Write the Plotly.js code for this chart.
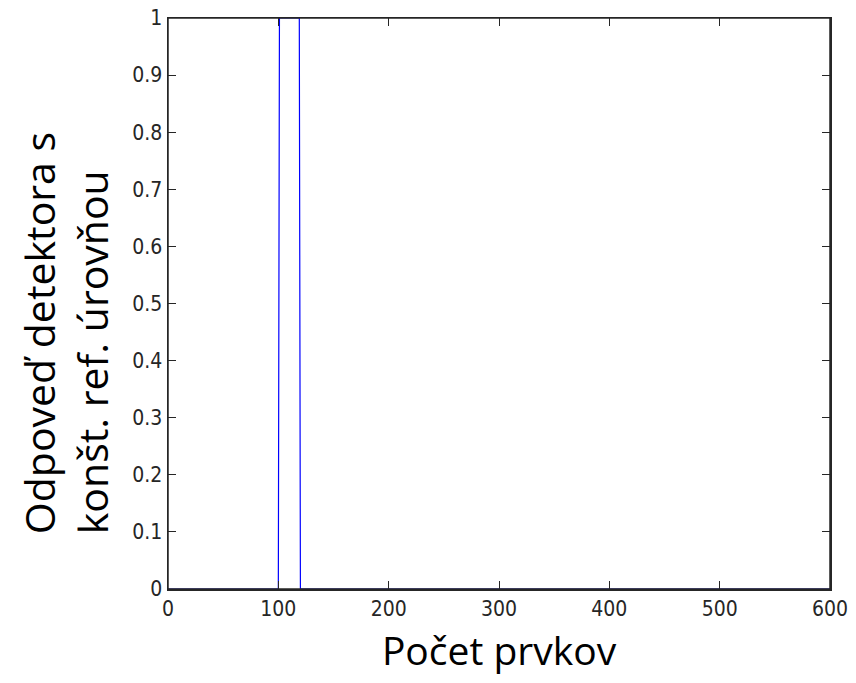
<!DOCTYPE html>
<html>
<head>
<meta charset="utf-8">
<script src="https://cdn.plot.ly/plotly-3.0.1.min.js"></script>
<style>html,body{margin:0;padding:0;background:#fff;}#chart{width:856px;height:683px;}</style>
</head>
<body>
<div id="chart"></div>
<script>
// Data (step response of the detector)
var pocetPrvkov = [0, 100, 101, 119, 120, 600];
var odpoved     = [0, 0,   1,   1,   0,   0];

var xTicks = [0, 100, 200, 300, 400, 500, 600];
var yTicks = [0, 0.1, 0.2, 0.3, 0.4, 0.5, 0.6, 0.7, 0.8, 0.9, 1];
var yTickText = ['0', '0.1', '0.2', '0.3', '0.4', '0.5', '0.6', '0.7', '0.8', '0.9', '1'];

var xTitle = 'Počet prvkov';
var yTitle = 'Odpoveď detektora s<br>konšt. ref. úrovňou';

var tickFont = {family: 'Liberation Sans Narrow, DejaVu Sans Condensed, Arial, sans-serif', size: 21, color: '#262626'};
var xTitleFont = {family: 'Open Sans, Noto Sans, sans-serif', size: 39, color: '#000'};
var yTitleFont = {family: 'Open Sans, Noto Sans, sans-serif', size: 41, color: '#000'};

var trace = {
  x: pocetPrvkov, y: odpoved, type: 'scatter', mode: 'lines',
  line: {color: '#0000ff', width: 1.2}, hoverinfo: 'skip', cliponaxis: true
};

var layout = {
  width: 856, height: 683,
  margin: {l: 168, r: 26, t: 18, b: 94},
  paper_bgcolor: '#ffffff', plot_bgcolor: '#ffffff',
  showlegend: false,
  xaxis: {
    range: [0, 600], tickvals: xTicks, ticktext: xTicks.map(String),
    ticks: 'inside', ticklen: 8, tickcolor: '#262626', tickwidth: 1,
    showline: true, linecolor: '#262626', linewidth: 1.5, mirror: 'ticks',
    showgrid: false, zeroline: false, tickfont: tickFont,
    title: {text: xTitle, font: xTitleFont, standoff: 18}
  },
  yaxis: {
    range: [0, 1], tickvals: yTicks, ticktext: yTickText,
    ticks: 'inside', ticklen: 8, tickcolor: '#262626', tickwidth: 1,
    showline: true, linecolor: '#262626', linewidth: 1.5, mirror: 'ticks',
    showgrid: false, zeroline: false, tickfont: tickFont
  },
  annotations: [{
    text: yTitle, xref: 'paper', yref: 'paper', x: -0.1556, y: 0.448,
    xanchor: 'center', yanchor: 'middle', textangle: -90, align: 'left',
    showarrow: false, font: yTitleFont
  }],
  shapes: [{
    type: 'rect', xref: 'paper', yref: 'paper', x0: 0, x1: 1, y0: 0, y1: 1,
    line: {color: '#262626', width: 1.5}, layer: 'above'
  }]
};

Plotly.newPlot('chart', [trace], layout, {staticPlot: true, displayModeBar: false});
</script>
</body>
</html>
